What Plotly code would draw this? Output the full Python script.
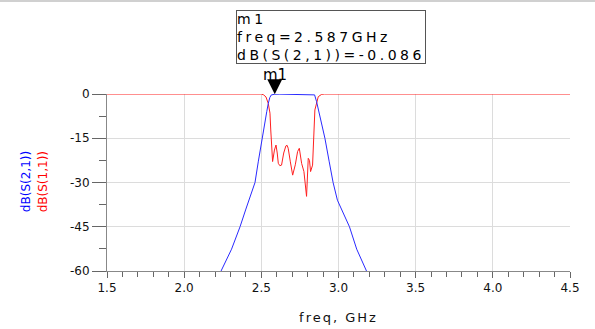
import plotly.graph_objects as go

# ---- data ----
freq_s21 = [2.15, 2.239, 2.307, 2.362, 2.40, 2.43, 2.459, 2.48, 2.504, 2.52, 2.535, 2.545,
            2.555, 2.565, 2.587, 2.62, 2.66, 2.70, 2.74, 2.78, 2.82, 2.845, 2.858, 2.87,
            2.89, 2.912, 2.94, 2.965, 2.993, 3.03, 3.071, 3.118, 3.183, 3.25]
s21_db = [-72, -60, -52.6, -45, -39, -34.5, -30, -23, -15, -10, -6, -3.2,
          -1.2, -0.3, -0.086, -0.05, -0.1, -0.05, -0.1, -0.06, -0.15, -0.3, -2.6, -5.3,
          -10, -15, -23, -30, -36, -40.5, -45, -52.6, -60, -68]

freq_s11 = [1.5, 2.50, 2.515, 2.53, 2.545, 2.556, 2.561, 2.573, 2.585, 2.595, 2.603, 2.610,
            2.62, 2.631, 2.645, 2.659, 2.667, 2.674, 2.688, 2.703, 2.72, 2.735, 2.746, 2.761,
            2.776, 2.793, 2.804, 2.812, 2.819, 2.832, 2.847, 2.858, 2.869, 2.891, 2.91, 4.5]
s11_db = [0, 0, -0.3, -1.0, -3.2, -6.5, -12.2, -22.9, -19, -17.3, -20, -23.5,
          -24.3, -24.1, -20, -17.6, -17.4, -18.4, -23, -27.5, -24, -19.5, -18.4, -23.5,
          -26.3, -34.7, -21.8, -22.5, -26.3, -24.1, -5.4, -2.6, -0.9, -0.1, 0, 0]

marker_name = "m1"
marker_freq = 2.587
marker_db = -0.086

x_ticks = [1.5, 2.0, 2.5, 3.0, 3.5, 4.0, 4.5]
y_ticks = [0, -15, -30, -45, -60]

FONT = "DejaVu Sans"

fig = go.Figure()
fig.add_trace(go.Scatter(x=freq_s11, y=s11_db, mode="lines",
                         line=dict(color="#ff2020", width=1), showlegend=False))
fig.add_trace(go.Scatter(x=freq_s21, y=s21_db, mode="lines",
                         line=dict(color="#2a2aff", width=1), showlegend=False))

fig.update_xaxes(
    range=[x_ticks[0], x_ticks[-1]], tickvals=x_ticks,
    ticktext=[f"{v:.1f}" for v in x_ticks],
    showline=True, linecolor="#888888", linewidth=1,
    showgrid=True, gridcolor="#dcdcdc", gridwidth=1, zeroline=False,
    ticks="outside", ticklen=6, tickcolor="#666666",
    tickfont=dict(family=FONT, size=12, color="#111111"),
    minor=dict(dtick=0.1, ticks="outside", ticklen=5, tickcolor="#666666", showgrid=False),
    automargin=False,
    title=dict(text='<span style="letter-spacing:2px">freq, GHz</span>',
               font=dict(family=FONT, size=13, color="#111111"), standoff=18),
)
fig.update_yaxes(
    range=[y_ticks[-1], y_ticks[0]], tickvals=y_ticks,
    ticktext=[str(v) for v in y_ticks],
    showline=True, linecolor="#888888", linewidth=1,
    showgrid=True, gridcolor="#dcdcdc", gridwidth=1, zeroline=False,
    ticks="outside", ticklen=14, tickcolor="#666666",
    tickfont=dict(family=FONT, size=12, color="#111111"),
    minor=dict(dtick=7.5, ticks="outside", ticklen=7, tickcolor="#666666", showgrid=False),
    automargin=False,
)

annotations = [
    dict(xref="paper", yref="paper", x=-0.194, y=0.503, text="dB(S(2,1))", textangle=-90,
         showarrow=False, font=dict(family=FONT, size=12, color="#0000ff")),
    dict(xref="paper", yref="paper", x=-0.157, y=0.503, text="dB(S(1,1))", textangle=-90,
         showarrow=False, font=dict(family=FONT, size=12, color="#ff0000")),
    dict(xref="x", yref="y", x=marker_freq, y=marker_db, text=marker_name,
         showarrow=True, arrowhead=2, arrowsize=3, arrowwidth=1, arrowcolor="#000000",
         ax=0, ay=-19, font=dict(family=FONT, size=15, color="#000000")),
    dict(xref="paper", yref="paper", x=0.2786, y=1.4746, xanchor="left", yanchor="top",
         align="left", showarrow=False,
         text='<span style="letter-spacing:3.5px">' + "<br>".join([
             marker_name,
             f"freq={marker_freq:.3f}GHz",
             f"dB(S(2,1))={marker_db:.3f}",
         ]) + "</span>",
         bordercolor="#555555", borderwidth=1, borderpad=0, bgcolor="#ffffff",
         font=dict(family=FONT, size=14, color="#000000")),
]

fig.update_layout(
    width=595, height=329,
    margin=dict(l=107, r=25, t=94, b=58),
    paper_bgcolor="#ffffff", plot_bgcolor="#ffffff",
    font=dict(family=FONT),
    annotations=annotations,
    shapes=[dict(type="line", xref="paper", yref="paper", x0=-0.25, x1=1.1,
                 y0=1.525, y1=1.525, line=dict(color="#d0d0d0", width=2))],
)

fig.write_html("out.html")
